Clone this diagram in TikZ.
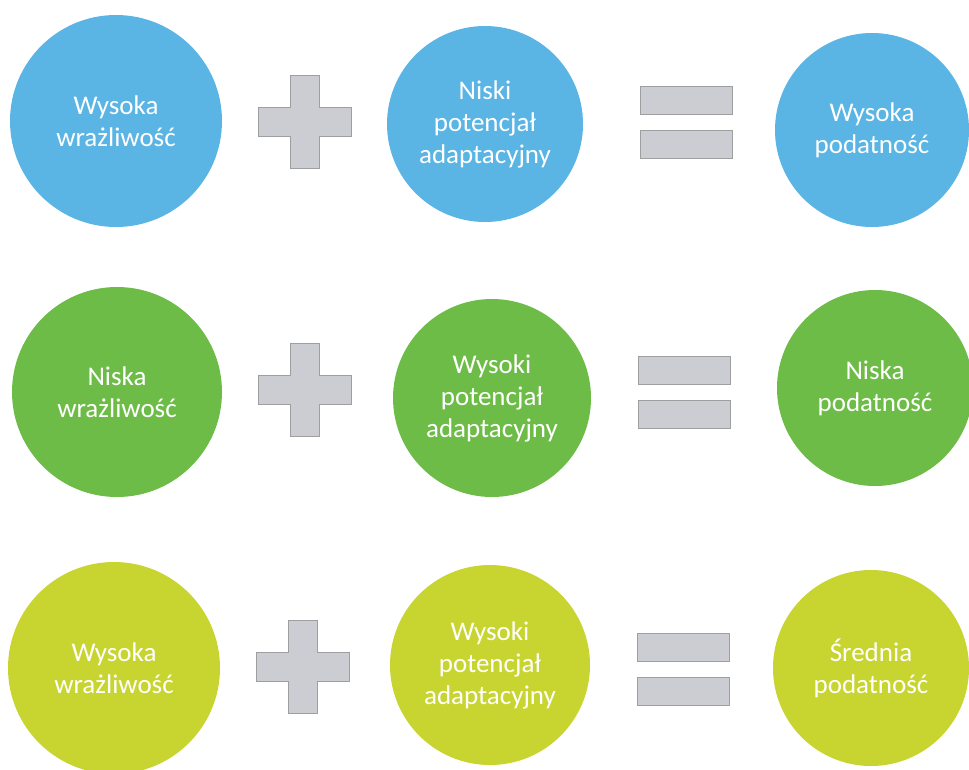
\documentclass[tikz,border=0pt]{standalone}
\usepackage{fontspec}
\setmainfont{Carlito}
\usepackage{tikz}
\usetikzlibrary{positioning}
\definecolor{skyblue}{RGB}{90,180,228}
\definecolor{leafgreen}{RGB}{110,188,72}
\definecolor{limeyellow}{RGB}{200,212,48}
\definecolor{signgray}{RGB}{204,205,210}
\tikzstyle{ball}=[circle,draw=none,text=white,align=center,inner sep=0pt,font=\fontsize{27}{32}\selectfont]
\tikzstyle{sign}=[fill=signgray,draw=gray!75,thin]
\newcommand{\plusmark}[2]{\draw[sign,shift={(#1,#2)}] (-14.5,-46.5) -- ++(29,0) -- ++(0,32) -- ++(32,0) -- ++(0,29) -- ++(-32,0) -- ++(0,32) -- ++(-29,0) -- ++(0,-32) -- ++(-32,0) -- ++(0,-29) -- ++(32,0) -- cycle;}
\newcommand{\equalsmark}[2]{\draw[sign,shift={(#1,#2)}] (-46,-36) rectangle (46,-8) (-46,8) rectangle (46,36);}

\begin{document}
\begin{tikzpicture}[x=1pt,y=-1pt]
\useasboundingbox (0,0) rectangle (969,769);
% high sensitivity + low capacity
\node [ball, fill=skyblue, minimum size=212pt] (sens1) at (116,121) {Wysoka\\wrażliwość};
\node [ball, fill=skyblue, minimum size=196pt] (adap1) at (485,124) {Niski\\potencjał\\adaptacyjny};
\node [ball, fill=skyblue, minimum size=194pt] (vuln1) at (872,130) {Wysoka\\podatność};
\plusmark{305}{122}
\equalsmark{686}{122}
% low sensitivity + high capacity
\node [ball, fill=leafgreen, minimum size=210pt] (sens2) at (117,392) {Niska\\wrażliwość};
\node [ball, fill=leafgreen, minimum size=198pt] (adap2) at (492,398) {Wysoki\\potencjał\\adaptacyjny};
\node [ball, fill=leafgreen, minimum size=196pt] (vuln2) at (875,388) {Niska\\podatność};
\plusmark{305}{390}
\equalsmark{684}{392}
% high sensitivity + high capacity
\node [ball, fill=limeyellow, minimum size=212pt] (sens3) at (114,668) {Wysoka\\wrażliwość};
\node [ball, fill=limeyellow, minimum size=200pt] (adap3) at (490,665) {Wysoki\\potencjał\\adaptacyjny};
\node [ball, fill=limeyellow, minimum size=196pt] (vuln3) at (871,668) {Średnia\\podatność};
\plusmark{303}{667}
\equalsmark{683}{669}
\end{tikzpicture}
\end{document}
